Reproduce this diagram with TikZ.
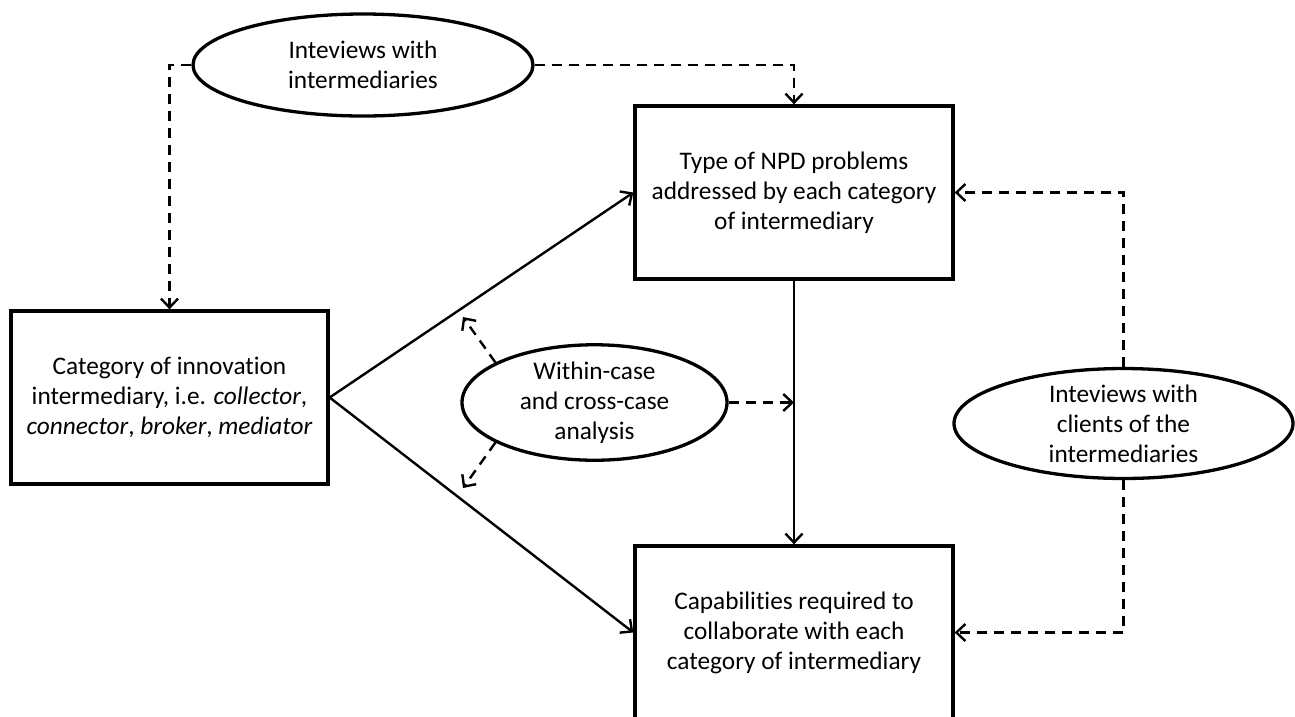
\documentclass[tikz,border=0pt]{standalone}
\usepackage{fontspec}
\setmainfont[Ligatures=NoCommon]{Carlito}
\usetikzlibrary{shapes.geometric,arrows.meta}

\tikzset{
  box/.style={draw, line width=3.3pt, rectangle, minimum width=318pt, minimum height=173pt,
    inner sep=0pt, align=center, font=\fontsize{25.3}{30}\selectfont},
  oval/.style={draw, line width=3.3pt, ellipse, inner sep=0pt, align=center,
    font=\fontsize{25.3}{30}\selectfont},
  flow/.style={line width=2.4pt, -{Straight Barb[length=9pt,width=17pt,line width=2.4pt]}},
  source/.style={line width=2.4pt, dash pattern=on 10pt off 7pt,
    -{Straight Barb[length=9pt,width=17pt,line width=2.4pt]}}
}

\begin{document}
\begin{tikzpicture}[x=1pt,y=-1pt]
\useasboundingbox (0,0) rectangle (1295,716);

% boxes
\node[box] (tb) at (794,192.5) {Type of NPD problems\\addressed by each category\\of intermediary};
\node[box, minimum width=317pt] (lb) at (169.5,397.5) {Category of innovation\\intermediary, i.e. \textit{collector},\\\textit{connector}, \textit{broker}, \textit{mediator}};
\node[box] (bb) at (794,632.5) {Capabilities required to\\collaborate with each\\category of intermediary};

% data sources
\node[oval, minimum width=340pt, minimum height=102pt] (te) at (363,65) {Inteviews with\\intermediaries};
\node[oval, minimum width=265pt, minimum height=101pt] (me) at (594.5,402.5) {Within-case\\and cross-case\\analysis};
\node[oval, minimum width=339pt, minimum height=103pt] (re) at (1123.5,423.5) {Inteviews with\\clients of the\\intermediaries};

% free ends of the analysis arrows
\coordinate (mid) at (me.east -| tb.south);
\coordinate (upA) at (463,317);
\coordinate (dnA) at (463,488);

% main relations
\draw[flow] (lb.east) -- (tb.west);
\draw[flow] (lb.east) -- (bb.west);
\draw[flow] (tb.south) -- (bb.north);

% inputs
\draw[source] (te.west) -| (lb.north);
\draw[source] (te.east) -| (tb.north);
\draw[source] (re.north) |- (tb.east);
\draw[source] (re.south) |- (bb.east);
\draw[source] (me.east) -- (mid);
\draw[source] (me.158) -- (upA);
\draw[source] (me.202) -- (dnA);
\end{tikzpicture}
\end{document}
